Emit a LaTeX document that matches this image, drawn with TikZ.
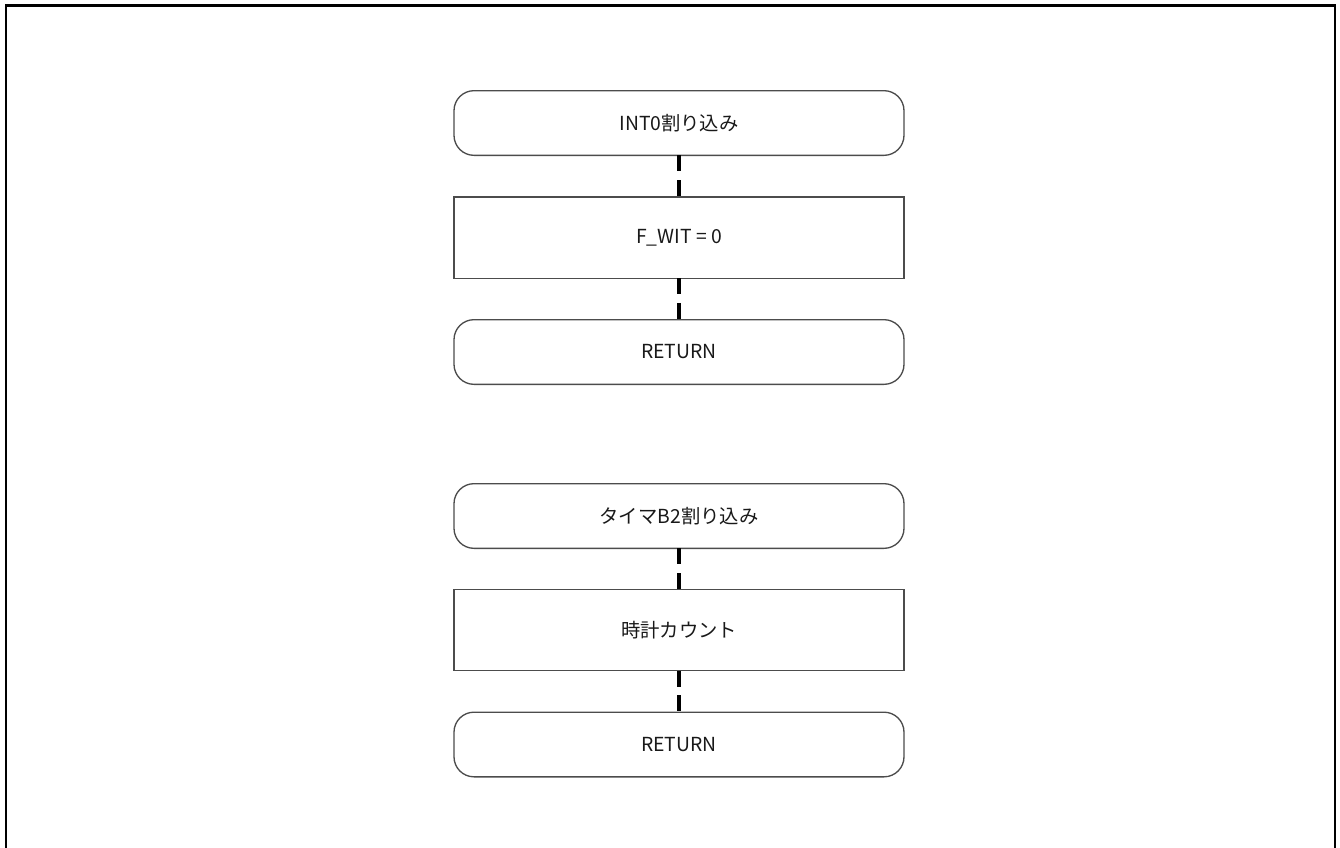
\documentclass[tikz,border=0pt]{standalone}
\usepackage{fontspec}
\setmainfont{Noto Sans CJK JP}
\begin{document}
\begin{tikzpicture}[x=0.75pt,y=-0.75pt,
  every node/.style={font=\fontsize{14.5pt}{16pt}\selectfont, text=black!90, inner sep=0pt, outer sep=0pt},
  term/.style={draw=black!70, line width=1pt, rounded corners=15pt, minimum width=337.5pt, minimum height=48.5pt},
  proc/.style={draw=black!70, line width=1pt, minimum width=337.5pt, minimum height=61pt},
  conn/.style={line width=2.3pt, black, dash pattern=on 12pt off 6.5pt}]
\useasboundingbox (0,0) rectangle (1340,847);
\coordinate (fbl) at (6,850);
\coordinate (ftl) at (6,5.5);
\coordinate (ftr) at (1335,5.5);
\coordinate (fbr) at (1335,850);
\draw[line width=1.9pt, black] (fbl) -- (ftl) -- (ftr) -- (fbr);

\node[term] (t1) at (679,123) {INT0割り込み};
\node[proc] (p1) at (679,237.5) {F\_WIT = 0};
\node[term] (r1) at (679,352) {RETURN};

\node[term] (t2) at (679,516) {タイマB2割り込み};
\node[proc] (p2) at (679,630) {時計カウント};
\node[term] (r2) at (679,744.5) {RETURN};

\draw[conn] (t1.south) -- (p1.north);
\draw[conn] (p1.south) -- (r1.north);
\draw[conn] (t2.south) -- (p2.north);
\draw[conn] (p2.south) -- (r2.north);
\end{tikzpicture}
\end{document}
